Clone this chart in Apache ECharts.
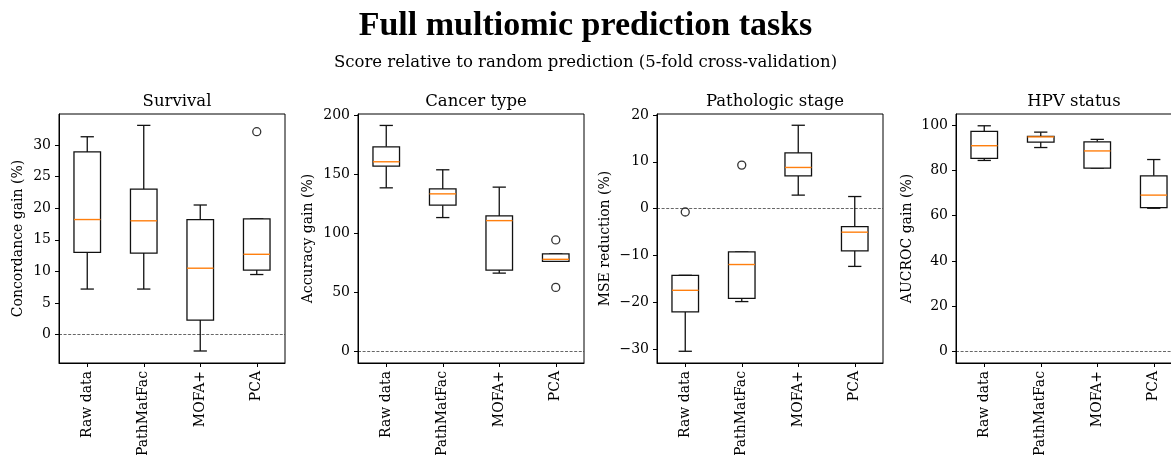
<!DOCTYPE html>
<html>
<head>
<meta charset="utf-8">
<script src="https://cdn.jsdelivr.net/npm/echarts@6/dist/echarts.min.js"></script>
<style>
  html, body { margin: 0; padding: 0; background: #fff; }
  #chart { width: 1171px; height: 455px; }
</style>
</head>
<body>
<div id="chart"></div>
<script>
// Methods compared in every panel
const categories = ['Raw data', 'PathMatFac', 'MOFA+', 'PCA'];

// Box summaries per method: [lower whisker, Q1, median, Q3, upper whisker]
const survivalBoxes = [
  [7.2, 13.0, 18.2, 28.9, 31.3],
  [7.2, 12.9, 18.0, 23.0, 33.1],
  [-2.6, 2.3, 10.5, 18.2, 20.5],
  [9.5, 10.2, 12.7, 18.3, 18.3]
];
const survivalOutliers = [[3, 32.1]];

const cancerBoxes = [
  [138.8, 157.2, 160.9, 173.6, 191.7],
  [113.6, 124.1, 133.7, 137.9, 154.1],
  [66.5, 69.1, 111.0, 115.0, 139.4],
  [76.5, 76.5, 78.2, 82.9, 82.9]
];
const cancerOutliers = [[3, 94.6], [3, 54.4]];

const stageBoxes = [
  [-30.4, -22.0, -17.4, -14.2, -14.2],
  [-19.8, -19.1, -11.9, -9.2, -9.2],
  [2.9, 7.0, 8.8, 11.9, 17.8],
  [-12.3, -9.0, -5.0, -3.8, 2.6]
];
const stageOutliers = [[0, -0.7], [1, 9.3]];

const hpvBoxes = [
  [84.4, 85.3, 90.9, 97.2, 99.7],
  [90.1, 92.5, 94.8, 95.0, 96.9],
  [81.0, 81.0, 88.6, 92.6, 93.7],
  [63.3, 63.6, 69.1, 77.6, 84.8]
];
const hpvOutliers = [];

// Tick values of each y axis
const survivalTicks = [0, 5, 10, 15, 20, 25, 30];
const cancerTicks = [0, 50, 100, 150, 200];
const stageTicks = [-30, -20, -10, 0, 10, 20];
const hpvTicks = [0, 20, 40, 60, 80, 100];

const panelTitles = ['Survival', 'Cancer type', 'Pathologic stage', 'HPV status'];
const yNames = ['Concordance gain (%)', 'Accuracy gain (%)', 'MSE reduction (%)', 'AUCROC gain (%)'];

const panels = [
  { boxes: survivalBoxes, outliers: survivalOutliers, ticks: survivalTicks, min: -4.5, max: 34.9 },
  { boxes: cancerBoxes, outliers: cancerOutliers, ticks: cancerTicks, min: -9.7, max: 201.4 },
  { boxes: stageBoxes, outliers: stageOutliers, ticks: stageTicks, min: -32.9, max: 20.2 },
  { boxes: hpvBoxes, outliers: hpvOutliers, ticks: hpvTicks, min: -5.0, max: 104.9 }
];

const SERIF = "'DejaVu Serif', serif";
const gridLefts = [59, 358, 657, 956];
const GRID_TOP = 114, GRID_W = 226, GRID_H = 249;
const nameGaps = [34, 43, 45, 42];

function fmt(v) {
  return v < 0 ? '\u2212' + Math.abs(v) : String(v);
}

// Draws one box: rectangle, whiskers, half-width caps, orange median
function renderBox(params, api) {
  const x = api.value(0);
  const lo = api.value(1), q1 = api.value(2), med = api.value(3), q3 = api.value(4), hi = api.value(5);
  const band = api.size([1, 0])[0];
  const w = band * 0.47;
  const cap = w / 2;
  const cx = api.coord([x, med])[0];
  const y = v => api.coord([x, v])[1];
  const stroke = { stroke: '#111', lineWidth: 1.3, fill: null };
  return {
    type: 'group',
    children: [
      { type: 'line', shape: { x1: cx, y1: y(q3), x2: cx, y2: y(hi) }, style: stroke },
      { type: 'line', shape: { x1: cx, y1: y(q1), x2: cx, y2: y(lo) }, style: stroke },
      { type: 'line', shape: { x1: cx - cap / 2, y1: y(hi), x2: cx + cap / 2, y2: y(hi) }, style: stroke },
      { type: 'line', shape: { x1: cx - cap / 2, y1: y(lo), x2: cx + cap / 2, y2: y(lo) }, style: stroke },
      { type: 'rect', shape: { x: cx - w / 2, y: y(q3), width: w, height: y(q1) - y(q3) }, style: { stroke: '#111', lineWidth: 1.3, fill: '#fff' } },
      { type: 'line', shape: { x1: cx - w / 2, y1: y(med), x2: cx + w / 2, y2: y(med) }, style: { stroke: '#ff7f0e', lineWidth: 1.4 } }
    ]
  };
}

const grids = [], xAxes = [], yAxes = [], series = [];
const titles = [
  {
    text: 'Full multiomic prediction tasks',
    left: 'center', top: 4,
    textStyle: { fontFamily: "'Liberation Serif', serif", fontWeight: 'bold', fontSize: 34, color: '#000' }
  },
  {
    text: 'Score relative to random prediction (5-fold cross-validation)',
    left: 'center', top: 49,
    textStyle: { fontFamily: SERIF, fontWeight: 'normal', fontSize: 16.5, color: '#000' }
  }
];

panels.forEach((p, i) => {
  grids.push({
    left: gridLefts[i], top: GRID_TOP, width: GRID_W, height: GRID_H,
    outerBoundsMode: 'none', containLabel: false,
    show: true, borderColor: '#000', borderWidth: 1, backgroundColor: 'transparent'
  });
  titles.push({
    text: panelTitles[i],
    left: gridLefts[i] + GRID_W / 2, top: 88, textAlign: 'center',
    textStyle: { fontFamily: SERIF, fontWeight: 'normal', fontSize: 16.5, color: '#000' }
  });
  xAxes.push({
    type: 'category', gridIndex: i, data: categories, boundaryGap: true,
    axisLine: { show: true, onZero: false, lineStyle: { color: '#000', width: 1 } },
    axisTick: { show: true, alignWithLabel: true, inside: false, length: 4, lineStyle: { color: '#000' } },
    axisLabel: { rotate: 90, margin: 8, color: '#000', fontFamily: SERIF, fontSize: 14, interval: 0 },
    splitLine: { show: false }
  });
  yAxes.push({
    type: 'value', gridIndex: i, min: p.min, max: p.max,
    name: yNames[i], nameLocation: 'middle', nameGap: nameGaps[i], nameRotate: 90,
    nameTextStyle: { fontFamily: SERIF, fontSize: 14, color: '#000' },
    axisLine: { show: true, onZero: false, lineStyle: { color: '#000', width: 1 } },
    axisTick: { show: true, inside: false, length: 4, lineStyle: { color: '#000' }, customValues: p.ticks },
    axisLabel: { color: '#000', fontFamily: SERIF, fontSize: 14, margin: 8, customValues: p.ticks, formatter: fmt },
    splitLine: { show: false }
  });
  series.push({
    type: 'custom', xAxisIndex: i, yAxisIndex: i,
    renderItem: renderBox,
    encode: { x: 0, y: [1, 2, 3, 4, 5] },
    data: p.boxes.map((b, k) => [k].concat(b)),
    z: 3,
    markLine: {
      silent: true, symbol: 'none', label: { show: false },
      lineStyle: { color: '#000', width: 0.6, type: [3, 1.6] },
      data: [{ yAxis: 0 }],
      z: 1
    }
  });
  series.push({
    type: 'scatter', xAxisIndex: i, yAxisIndex: i,
    symbol: 'circle', symbolSize: 8,
    itemStyle: { color: '#fff', borderColor: '#000', borderWidth: 1.3 },
    data: p.outliers,
    z: 4
  });
});

const chart = echarts.init(document.getElementById('chart'), null, { renderer: 'canvas' });
chart.setOption({
  animation: false,
  backgroundColor: '#fff',
  title: titles,
  grid: grids,
  xAxis: xAxes,
  yAxis: yAxes,
  series: series
});
</script>
</body>
</html>
